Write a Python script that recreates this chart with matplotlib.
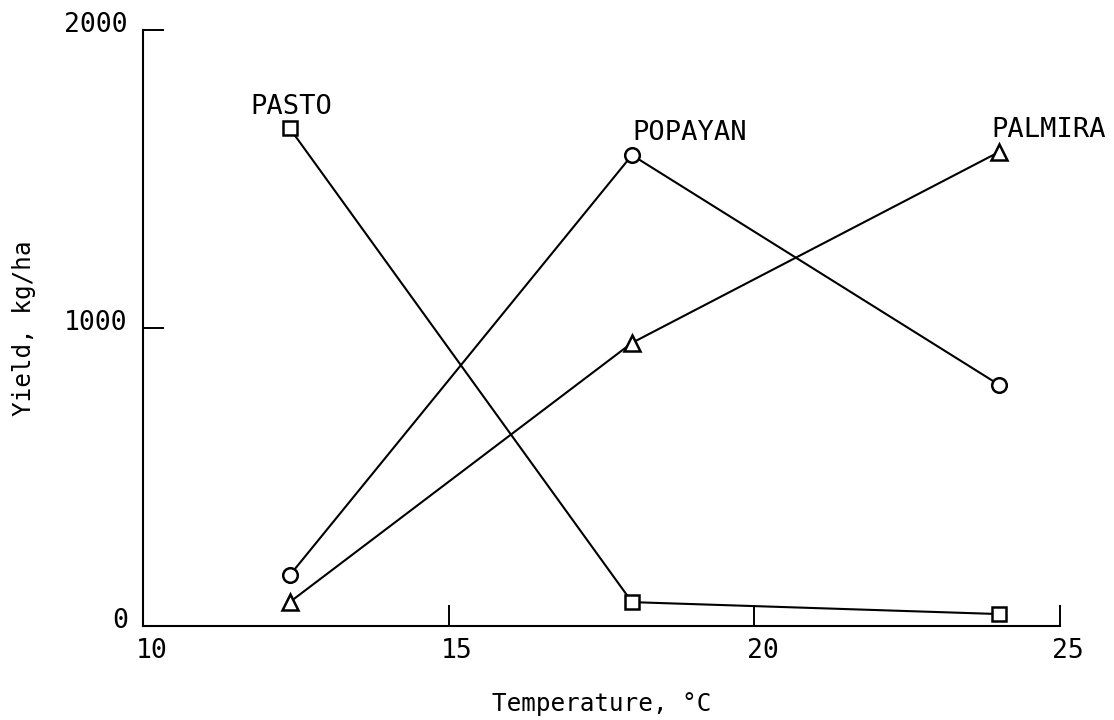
import matplotlib
matplotlib.use("Agg")
import matplotlib.pyplot as plt
from matplotlib.transforms import ScaledTranslation

temperature = [12.4, 18.0, 24.0]
pasto = [1670, 80, 40]
popayan = [170, 1580, 810]
palmira = [80, 950, 1590]

x_ticks = [10, 15, 20, 25]
y_ticks = [0, 1000, 2000]

plt.rcParams['font.family'] = ['DejaVu Sans Mono']

fig = plt.figure(figsize=(11.14, 7.2), dpi=100)
ax = fig.add_axes([0.1284, 0.1306, 0.823, 0.8278])

mk = dict(markerfacecolor='white', markeredgecolor='black', markeredgewidth=1.8,
          color='black', linewidth=1.5, clip_on=False)
ax.plot(temperature, pasto, marker='s', markersize=9.5, **mk)
ax.plot(temperature, popayan, marker='o', markersize=10.5, **mk)
ax.plot(temperature, palmira, marker='^', markersize=11, **mk)

ax.text(11.75, 1742, 'PASTO', fontsize=19.5, va='center', ha='left')
ax.text(18.0, 1654, 'POPAYAN', fontsize=19.5, va='center', ha='left')
ax.text(23.88, 1664, 'PALMIRA', fontsize=19.5, va='center', ha='left')

ax.set_xlim(10, 25)
ax.set_ylim(0, 2000)
ax.set_xticks(x_ticks)
ax.set_yticks(y_ticks)
ax.tick_params(direction='in', length=15, width=1.4, labelsize=19, pad=9)
ax.tick_params(axis='y', pad=11)
for s in ['top', 'right']:
    ax.spines[s].set_visible(False)
for s in ['left', 'bottom']:
    ax.spines[s].set_linewidth(1.5)

offset = ScaledTranslation(0, 6 / 72, fig.dpi_scale_trans)
for lbl in ax.get_yticklabels():
    lbl.set_transform(lbl.get_transform() + offset)
offx = ScaledTranslation(6 / 72, 0, fig.dpi_scale_trans)
for lbl in ax.get_xticklabels():
    lbl.set_transform(lbl.get_transform() + offx)

ax.set_xlabel('Temperature, °C', fontsize=17.5, labelpad=20)
ax.set_ylabel('Yield, kg/ha', fontsize=17.5, labelpad=20)

fig.savefig('out.png', dpi=100)
